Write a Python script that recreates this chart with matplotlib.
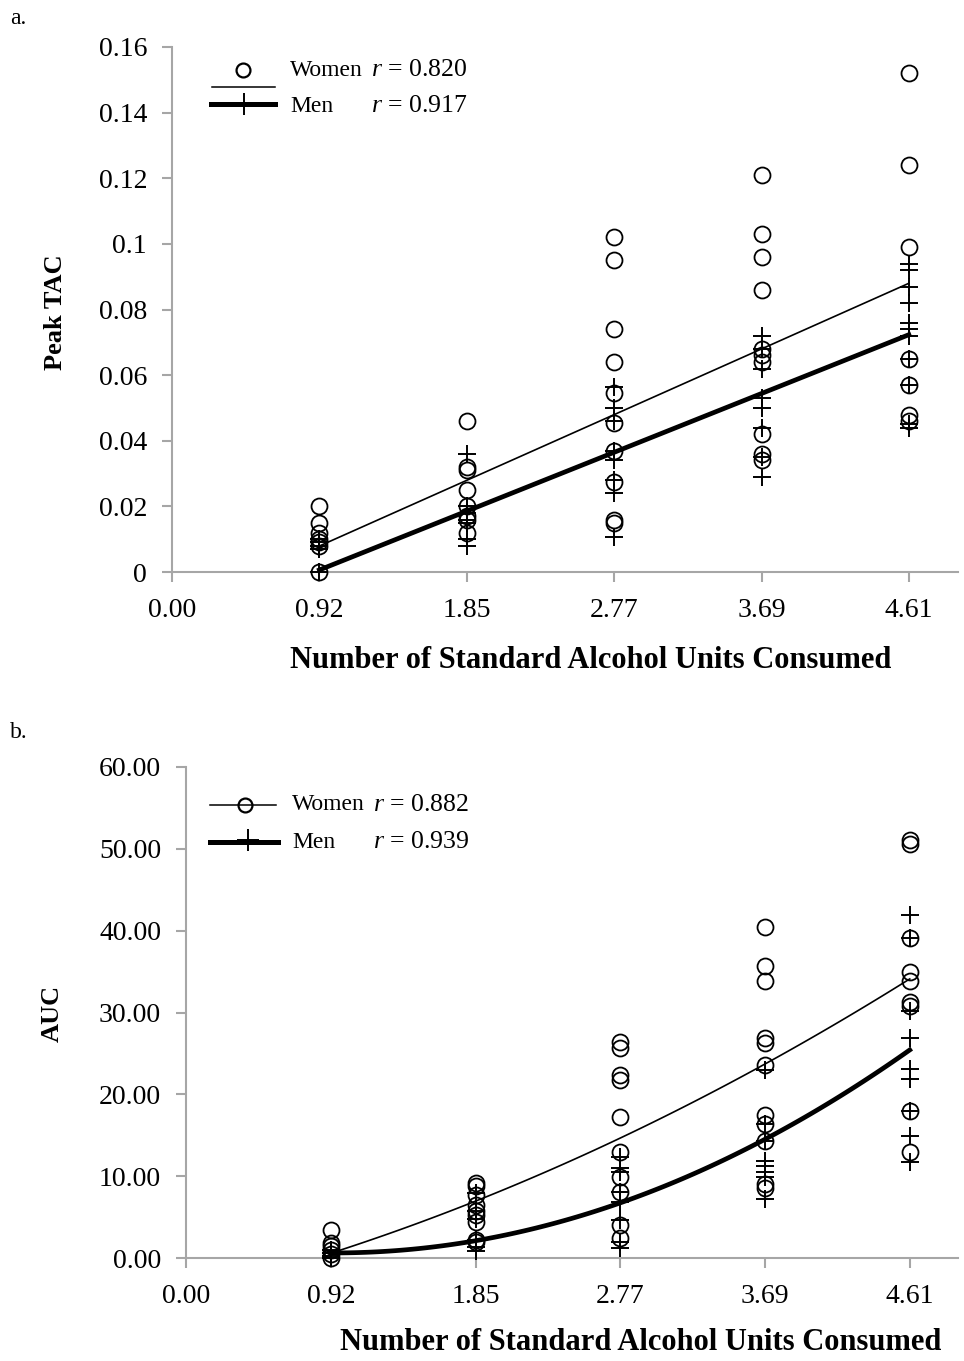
import numpy as np
import matplotlib
matplotlib.use("Agg")
import matplotlib.pyplot as plt
from matplotlib.lines import Line2D

plt.rcParams["font.family"] = ["Liberation Serif", "DejaVu Serif"]
plt.rcParams["mathtext.fontset"] = "custom"
plt.rcParams["mathtext.it"] = "Liberation Serif:italic"
plt.rcParams["mathtext.rm"] = "Liberation Serif"

# Doses (standard alcohol units) and their axis labels.
dose_x = [0.9225, 1.845, 2.7675, 3.69, 4.6125]
x_ticks = [0.0, 0.9225, 1.845, 2.7675, 3.69, 4.6125]
x_tick_labels = ["0.00", "0.92", "1.85", "2.77", "3.69", "4.61"]

# Panel a: peak TAC per subject, one list per dose.
women_tac = [
    [0.020, 0.015, 0.012, 0.010, 0.009, 0.008, 0.0],
    [0.046, 0.032, 0.031, 0.025, 0.020, 0.017, 0.016, 0.012],
    [0.102, 0.095, 0.074, 0.064, 0.0545, 0.0454, 0.037, 0.0274, 0.016, 0.015],
    [0.121, 0.103, 0.096, 0.086, 0.068, 0.066, 0.064, 0.042, 0.036, 0.034],
    [0.152, 0.124, 0.099, 0.065, 0.057, 0.048, 0.046],
]
men_tac = [
    [0.010, 0.009, 0.008, 0.007, 0.0],
    [0.036, 0.020, 0.018, 0.016, 0.015, 0.010, 0.008],
    [0.0565, 0.050, 0.046, 0.037, 0.034, 0.028, 0.024, 0.0107],
    [0.072, 0.068, 0.062, 0.053, 0.050, 0.044, 0.035, 0.029],
    [0.094, 0.092, 0.087, 0.082, 0.076, 0.074, 0.072, 0.065, 0.057, 0.045, 0.044],
]
# Linear trend lines (slope, intercept).
women_tac_fit = [0.0217, -0.0121]
men_tac_fit = [0.01943, -0.0173]

# Panel b: AUC per subject, one list per dose.
women_auc = [
    [3.4, 1.8, 1.5, 1.0, 0.5, 0.0],
    [9.2, 8.8, 7.7, 6.5, 5.8, 5.2, 4.4, 2.2, 1.9],
    [26.4, 25.7, 22.4, 21.8, 17.2, 13.0, 9.9, 8.1, 4.0, 2.4],
    [40.5, 35.7, 33.9, 26.9, 26.3, 23.6, 17.5, 16.4, 14.3, 9.0, 8.6],
    [51.1, 50.6, 39.1, 35.0, 33.9, 31.3, 30.8, 18.0, 12.9],
]
men_auc = [
    [1.0, 0.6, 0.3, 0.0],
    [7.9, 5.8, 4.8, 2.2, 1.3, 0.9],
    [12.3, 11.0, 10.5, 8.1, 6.8, 4.6, 2.0, 1.2],
    [23.0, 16.4, 14.3, 11.8, 11.2, 10.5, 9.9, 7.2],
    [41.9, 39.1, 30.2, 26.9, 23.1, 21.9, 18.0, 14.9, 11.7],
]
# Quadratic trend lines, read at each dose.
women_auc_trend = [0.5, 7.2, 14.4, 23.8, 34.1]
men_auc_trend = [0.6, 2.2, 6.6, 14.6, 25.4]

W, H = 964, 1361
fig = plt.figure(figsize=(W / 100, H / 100), dpi=100)
ax1 = fig.add_axes([172 / W, 1 - 572 / H, 786 / W, 525 / H])
ax2 = fig.add_axes([186 / W, 1 - 1258 / H, 772 / W, 491 / H])

grey = "#a6a6a6"


def style_axis(ax):
    for side in ["top", "right"]:
        ax.spines[side].set_visible(False)
    for side in ["left", "bottom"]:
        ax.spines[side].set_color(grey)
        ax.spines[side].set_linewidth(1.5)
    ax.tick_params(axis="both", colors=grey, labelcolor="black",
                   length=7, width=1.5, labelsize=20)
    ax.tick_params(axis="y", pad=11)
    ax.tick_params(axis="x", pad=12)
    ax.set_xlim(0, 4.92)
    ax.set_xticks(x_ticks)
    ax.set_xticklabels(x_tick_labels)


def draw_points(ax, women, men):
    for x, vals in zip(dose_x, women):
        ax.plot([x] * len(vals), vals, "o", ms=11.5, mfc="none", mec="black",
                mew=1.3, clip_on=False, zorder=3)
    for x, vals in zip(dose_x, men):
        ax.plot([x] * len(vals), vals, "+", ms=13, mec="black", mew=1.4,
                clip_on=False, zorder=3)


# ---- panel a
style_axis(ax1)
draw_points(ax1, women_tac, men_tac)
xs = np.array([dose_x[0], dose_x[-1]])
ax1.plot(xs, np.polyval(women_tac_fit, xs), color="black", lw=1.2, zorder=4)
ax1.plot(xs, np.polyval(men_tac_fit, xs), color="black", lw=3.4, zorder=4)
ax1.set_ylim(0, 0.16)
ax1.set_yticks([0, 0.02, 0.04, 0.06, 0.08, 0.1, 0.12, 0.14, 0.16])
ax1.set_yticklabels(["0", "0.02", "0.04", "0.06", "0.08", "0.1", "0.12", "0.14", "0.16"])

# ---- panel b
style_axis(ax2)
draw_points(ax2, women_auc, men_auc)
fine = np.linspace(dose_x[0], dose_x[-1], 100)
ax2.plot(fine, np.polyval(np.polyfit(dose_x, women_auc_trend, 2), fine),
         color="black", lw=1.2, zorder=4)
ax2.plot(fine, np.polyval(np.polyfit(dose_x, men_auc_trend, 2), fine),
         color="black", lw=3.4, zorder=4)
ax2.set_ylim(0, 60)
ax2.set_yticks(np.arange(0, 61, 10))
ax2.set_yticklabels([f"{v:.2f}" for v in np.arange(0, 61, 10)])


# Axis titles and panel letters, placed in figure pixels.
def ftext(x, y, s, **kw):
    fig.text(x / W, 1 - y / H, s, **kw)


ftext(10, 18, "a.", fontsize=17, va="center")
ftext(10, 733, "b.", fontsize=17, va="center")
ftext(591, 660, "Number of Standard Alcohol Units Consumed", fontsize=22,
      fontweight="bold", ha="center", va="center")
ftext(641, 1343, "Number of Standard Alcohol Units Consumed", fontsize=22,
      fontweight="bold", ha="center", va="center")
ftext(55, 312, "Peak TAC", fontsize=19, fontweight="bold", rotation=90,
      ha="center", va="center")
ftext(52, 1013, "AUC", fontsize=19, fontweight="bold", rotation=90,
      ha="center", va="center")


# Legends drawn by hand to mimic the original layout.
def fline(x0, x1, y, lw):
    fig.add_artist(Line2D([x0 / W, x1 / W], [1 - y / H, 1 - y / H], color="black",
                          lw=lw, transform=fig.transFigure))


def fmark(x, y, m, ms, mew):
    fig.add_artist(Line2D([x / W], [1 - y / H], marker=m, ms=ms, mfc="none",
                          mec="black", mew=mew, linestyle="none",
                          transform=fig.transFigure))


# panel a legend
fline(212, 275, 87, 1.1)
fmark(243, 70, "o", 10, 1.6)
fline(211, 275, 104, 3.6)
fmark(244, 104, "+", 16, 1.4)
ftext(290, 70, "Women", fontsize=17, va="center")
ftext(290, 106, "Men", fontsize=17, va="center")
ftext(371, 70, r"$r$ = 0.820", fontsize=18.5, va="center")
ftext(371, 106, r"$r$ = 0.917", fontsize=18.5, va="center")

# panel b legend
fline(210, 276, 805, 1.1)
fmark(245, 805, "o", 10, 1.6)
fline(210, 278, 842, 3.6)
fmark(248, 840, "+", 16, 1.4)
ftext(292, 805, "Women", fontsize=17, va="center")
ftext(292, 842, "Men", fontsize=17, va="center")
ftext(373, 805, r"$r$ = 0.882", fontsize=18.5, va="center")
ftext(373, 842, r"$r$ = 0.939", fontsize=18.5, va="center")

fig.savefig("out.png", dpi=100)
